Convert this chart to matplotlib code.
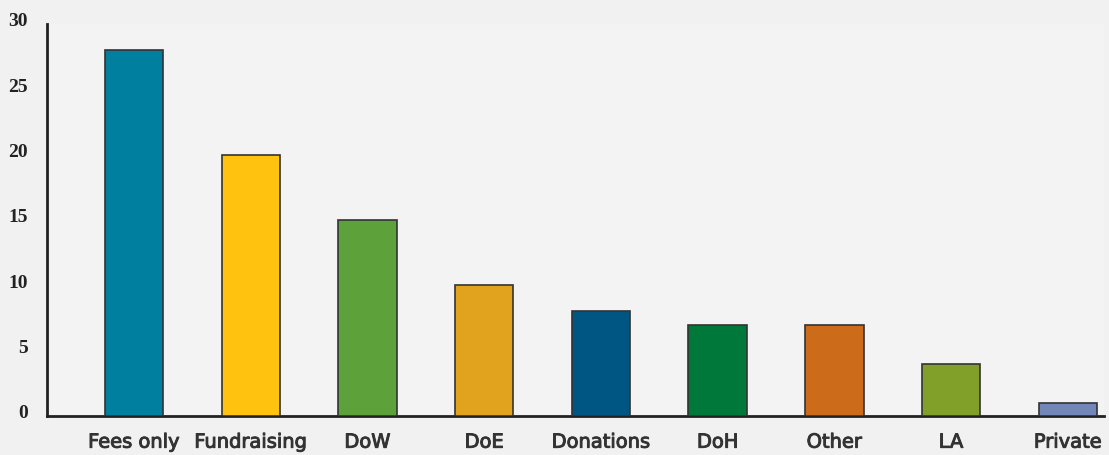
import matplotlib
matplotlib.use("Agg")
import matplotlib.pyplot as plt
import matplotlib.patheffects as pe
from matplotlib.transforms import ScaledTranslation

categories = ["Fees only", "Fundraising", "DoW", "DoE", "Donations", "DoH", "Other", "LA", "Private"]
values = [28, 20, 15, 10, 8, 7, 7, 4, 1]
colors = ["#007f9f", "#fec20f", "#5ca13a", "#e1a21e", "#005683", "#00783a", "#cc6c1a", "#80a02a", "#7286b8"]
yticks = [0, 5, 10, 15, 20, 25, 30]

fig = plt.figure(figsize=(11.09, 4.55), dpi=100, facecolor="#f1f1f1")
ax = fig.add_axes([47/1109, 1 - 416/455, (1104-47)/1109, (416-24)/455])
ax.set_facecolor("#f3f3f3")

x = list(range(len(categories)))
ax.bar(x, values, width=0.5, color=colors, edgecolor="#333333", linewidth=1.2, zorder=3)

ax.set_xlim(-0.745, 8.31)
ax.set_ylim(0, 30)
ax.set_yticks(yticks)
ax.set_yticklabels([str(v) for v in yticks], fontfamily="Liberation Serif",
                   fontweight="bold", fontsize=14, color="#222222")
ax.set_xticks(x)
ax.set_xticklabels(categories, fontfamily="DejaVu Sans", fontweight="normal",
                   fontsize=14, color="#333333")
ax.tick_params(axis="y", length=0, pad=14)
ax.tick_params(axis="x", length=0, pad=12)

offset = ScaledTranslation(0, 4/100, fig.dpi_scale_trans)
for lbl in ax.get_yticklabels():
    lbl.set_transform(lbl.get_transform() + offset)
for lbl in ax.get_xticklabels():
    lbl.set_path_effects([pe.withStroke(linewidth=0.7, foreground="#333333")])

for s in ["top", "right"]:
    ax.spines[s].set_visible(False)
ax.spines["left"].set_linewidth(2)
ax.spines["bottom"].set_linewidth(2)
ax.spines["left"].set_color("#222222")
ax.spines["bottom"].set_color("#222222")

fig.savefig("out.png", dpi=100, facecolor=fig.get_facecolor())
